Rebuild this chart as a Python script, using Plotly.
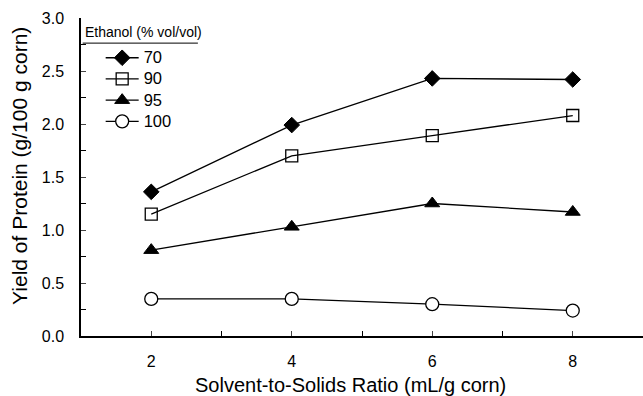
import plotly.graph_objects as go

ratio = [2, 4, 6, 8]
series_names = ["70", "90", "95", "100"]
y70 = [1.36, 1.99, 2.43, 2.42]
y90 = [1.15, 1.70, 1.89, 2.08]
y95 = [0.81, 1.03, 1.25, 1.17]
y100 = [0.35, 0.35, 0.30, 0.24]
x_ticks = [2, 4, 6, 8]
y_ticks = [0.0, 0.5, 1.0, 1.5, 2.0, 2.5, 3.0]

styles = [
    dict(symbol="diamond", size=12, color="black", line=dict(color="black", width=1)),
    dict(symbol="square-open", size=12, color="black", line=dict(color="black", width=1.3)),
    dict(symbol="triangle-up", size=13, color="black", line=dict(color="black", width=1)),
    dict(symbol="circle", size=13, color="white", line=dict(color="black", width=1.3)),
]

fig = go.Figure()
for name, ys, st in zip(series_names, [y70, y90, y95, y100], styles):
    fig.add_trace(go.Scatter(x=ratio, y=ys, name="<span style='font-size:16.5px'>" + name + "</span>",
                             mode="lines+markers",
                             line=dict(color="black", width=1.3), marker=st))

fig.update_layout(
    width=643, height=396,
    margin=dict(l=81, r=0, t=18, b=60, autoexpand=False),
    paper_bgcolor="white", plot_bgcolor="white",
    font=dict(family="Liberation Sans, Arial, sans-serif", color="black"),
    showlegend=True,
    legend=dict(x=0.035, y=0.924, xanchor="left", yanchor="top",
                font=dict(size=14), itemwidth=33, tracegroupgap=0,
                bgcolor="rgba(0,0,0,0)"),
    xaxis=dict(range=[1, 9], tickvals=x_ticks, ticks="inside", ticklen=5,
               showline=True, linecolor="black", linewidth=1.5, showgrid=False,
               zeroline=False, tickfont=dict(size=16), ticklabelstandoff=10,
               automargin=False,
               minor=dict(dtick=1, tick0=1, ticks="inside", ticklen=5, tickcolor="black")),
    yaxis=dict(range=[0, 3], tickvals=y_ticks, tickformat=".1f", ticks="inside", ticklen=5,
               showline=True, linecolor="black", linewidth=1.5, showgrid=False,
               zeroline=False, tickfont=dict(size=16), ticklabelstandoff=12,
               automargin=False,
               minor=dict(dtick=0.25, tick0=0, ticks="inside", ticklen=5, tickcolor="black")),
    annotations=[
        dict(text="Solvent-to-Solids Ratio (mL/g corn)", xref="paper", yref="paper",
             x=0.479, y=-0.154, xanchor="center", yanchor="middle", showarrow=False,
             font=dict(size=20)),
        dict(text="Yield of Protein (g/100 g corn)", xref="paper", yref="paper",
             x=-0.1085, y=0.535, xanchor="center", yanchor="middle", showarrow=False,
             textangle=-90, font=dict(size=21)),
        dict(text="Ethanol (% vol/vol)", xref="paper", yref="paper",
             x=0.003, y=0.956, xanchor="left", yanchor="middle", showarrow=False,
             font=dict(size=14)),
    ],
)
fig.add_shape(type="line", xref="paper", yref="paper", x0=0.003, x1=0.208,
              y0=0.921, y1=0.921, line=dict(color="black", width=1))
fig.write_html("out.html", config={"displayModeBar": False},
               post_script="document.body.style.margin='0';document.body.style.overflow='hidden';")
